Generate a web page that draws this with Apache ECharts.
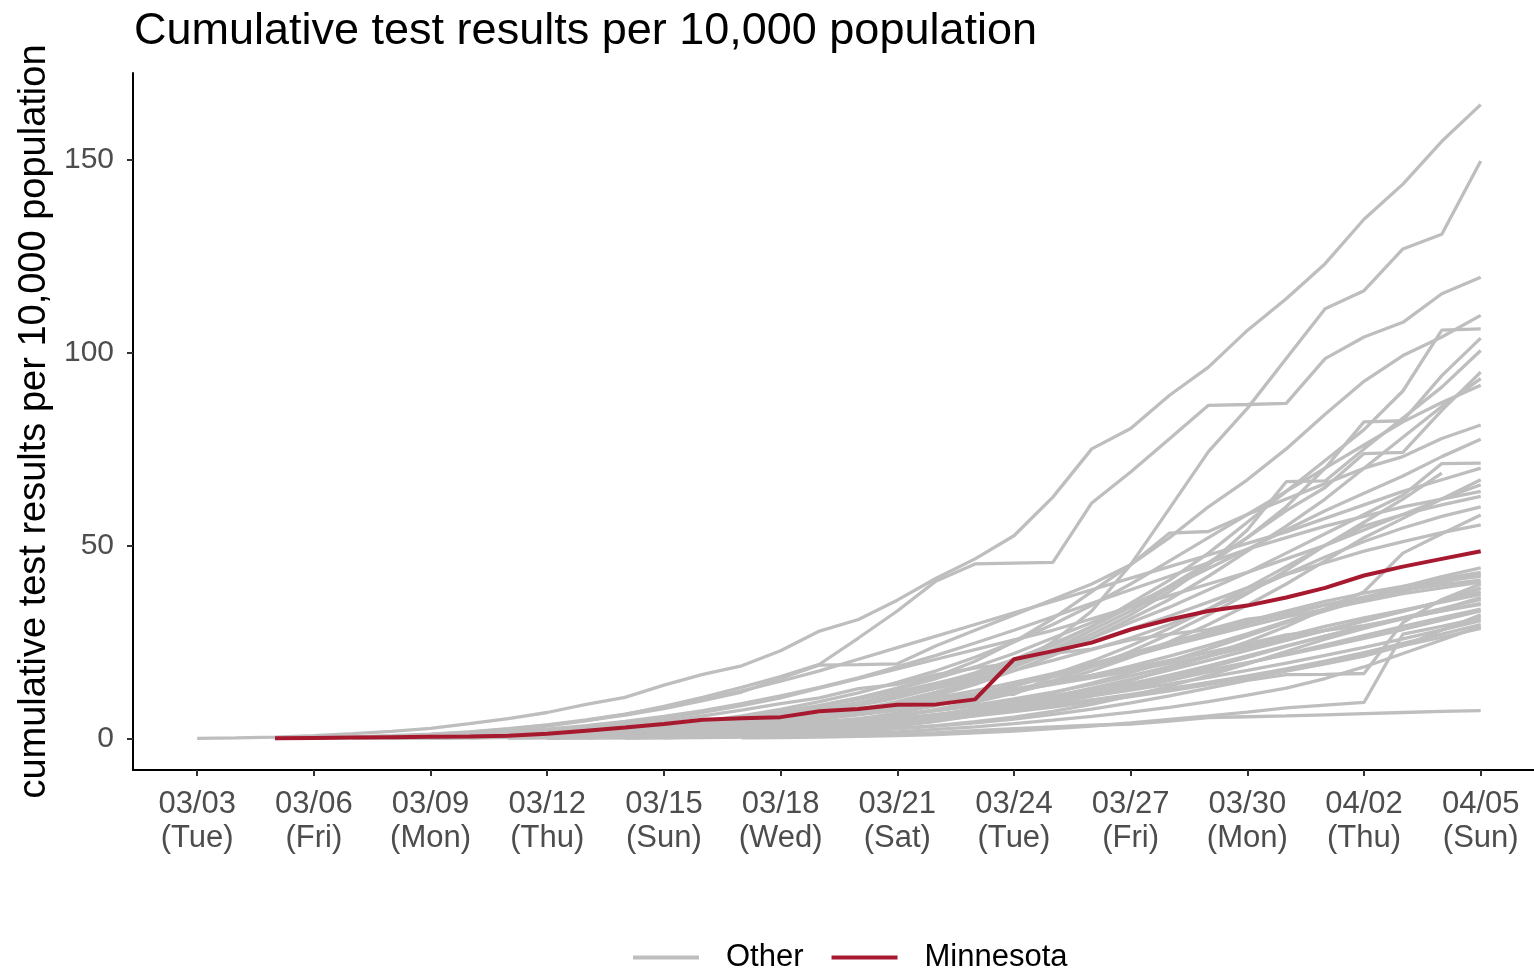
<!DOCTYPE html>
<html>
<head>
<meta charset="utf-8">
<script src="https://cdn.jsdelivr.net/npm/echarts@6.0.0/dist/echarts.min.js"></script>
<style>
  html, body { margin: 0; padding: 0; background: #fff; }
  #main { width: 1534px; height: 968px; }
</style>
</head>
<body>
<div id="main"></div>
<script>
// day index 0 = 03/03 ... 33 = 04/05
var tickDays = [0, 3, 6, 9, 12, 15, 18, 21, 24, 27, 30, 33];
var tickLabels = ['03/03\n(Tue)', '03/06\n(Fri)', '03/09\n(Mon)', '03/12\n(Thu)', '03/15\n(Sun)', '03/18\n(Wed)',
    '03/21\n(Sat)', '03/24\n(Tue)', '03/27\n(Fri)', '03/30\n(Mon)', '04/02\n(Thu)', '04/05\n(Sun)'];
var yTicks = [0, 50, 100, 150];

var _ = null;
var minnesota = [_, _, 0, 0.1, 0.2, 0.3, 0.4, 0.5, 0.7, 1.2, 2.0, 2.8, 3.7, 4.8, 5.2, 5.5, 7.0, 7.6, 8.7, 8.8, 10.1,
    20.5, 22.6, 24.8, 28.2, 30.8, 33, 34.4, 36.5, 39, 42.2, 44.5, 46.5, 48.5];

var other01 = [0, 0.1, 0.3, 0.7, 1.2, 1.8, 2.6, 3.8, 5.1, 6.7, 8.8, 10.6, 13.8, 16.6, 18.8, 22.7, 27.8, 30.8, 35.8, 41.5,
    46.5, 52.5, 62.5, 75, 80.3, 88.9, 96.2, 105.7, 113.9, 123, 134.5, 143.6, 154.7, 164.2];
var other02 = [_, _, _, _, _, 0.1, 0.2, 0.3, 0.5, 0.8, 1.1, 1.5, 2, 2.8, 3.6, 4.6, 5.8, 7.2, 9, 11.5, 14.5, 19, 25, 33,
    45, 59.6, 74.3, 85.5, 98.4, 111.3, 116, 126.8, 130.6, 149.6];
var other03 = [_, _, _, _, 0.1, 0.3, 0.6, 1.2, 2, 3.2, 4.6, 6.2, 8.3, 10.6, 13.2, 16, 19.2, 26, 33, 40.8, 45.2, 45.4,
    45.6, 61, 69, 77.6, 86.3, 86.5, 86.8, 98.4, 104, 107.8, 115.2, 119.5];
var other04 = [_, _, _, _, _, _, 0.2, 0.4, 0.7, 1, 1.5, 2.2, 3, 4, 5.2, 6.8, 8.5, 10.5, 13, 16, 20, 25, 31, 38, 45, 52,
    60, 67, 75, 84, 92.5, 99.2, 104, 109.6];
var other05 = [_, _, _, _, _, _, _, 0.2, 0.4, 0.7, 1.1, 1.6, 2.3, 3.2, 4.3, 5.6, 7, 8.8, 11, 13.5, 16.5, 20, 24, 29, 35,
    41, 48, 56, 64, 72, 80, 90, 105.8, 106.1];
var other06 = [_, _, _, _, _, _, 0.1, 0.3, 0.5, 0.8, 1.2, 1.8, 2.5, 3.3, 4.3, 5.5, 7, 8.5, 10.5, 13, 16, 19, 23, 28, 33,
    39, 45, 52, 60, 70, 82, 82.3, 94, 103.7];
var other07 = [_, _, _, _, _, _, _, _, 0.2, 0.4, 0.7, 1.1, 1.6, 2.3, 3.2, 4.4, 5.8, 7.5, 9.5, 12, 15, 18.5, 22.5, 27, 32,
    38, 45, 54, 66.5, 66.7, 75, 83, 91, 100.5];
var other08 = [_, _, _, _, _, 0.1, 0.2, 0.4, 0.6, 0.9, 1.3, 1.8, 2.5, 3.4, 4.5, 5.8, 7.4, 9.2, 11.4, 14, 17, 20.5, 24.5,
    29, 34, 39.5, 45.5, 52, 59, 65, 73.8, 74.1, 85, 94.9];
var other09 = [_, _, _, _, _, _, _, _, _, 0.2, 0.4, 0.7, 1.1, 1.7, 2.5, 3.5, 4.8, 6.5, 8.5, 11, 14, 17.5, 21.5, 26, 31,
    36, 42, 48.5, 55, 62, 70, 78, 86, 93.2];
var other10 = [_, _, _, _, 0.1, 0.2, 0.3, 0.5, 0.8, 1.2, 1.7, 2.4, 3.3, 4.4, 5.8, 7.5, 9.5, 11.8, 14.5, 17.5, 21, 25,
    29.5, 34.5, 40, 46, 52, 58, 64, 70, 76, 82, 87, 91.5];
var other11 = [_, _, _, 0.1, 0.3, 0.6, 1, 1.6, 2.4, 3.4, 4.6, 6, 7.7, 9.8, 12, 15.5, 19, 19.1, 19.3, 24, 28, 32, 36, 40,
    45, 53.2, 53.6, 58, 62, 66, 70, 73, 77.7, 81.2];
var other12 = [_, _, _, _, _, _, 0.1, 0.3, 0.6, 1, 1.5, 2.2, 3, 4, 5.3, 6.8, 8.5, 10.5, 12.8, 15.5, 18.5, 22, 26, 30,
    34.5, 39, 44, 49, 54, 59, 63.5, 68, 73, 77.5];
var other13 = [_, _, _, _, _, _, 0.1, 0.2, 0.4, 0.7, 1.1, 1.6, 2.3, 3.2, 4.3, 5.6, 7.2, 9, 11, 13.5, 16, 19, 22.5, 26,
    30, 34, 38.5, 43, 48, 53, 58, 63, 71.2, 71.3];
var other14 = [_, _, 0.1, 0.2, 0.4, 0.7, 1.1, 1.7, 2.5, 3.5, 4.8, 6.3, 8, 10, 12.3, 14.8, 17.5, 20.5, 23.5, 26.5, 29.5,
    32.5, 35.5, 38.5, 41.5, 44.5, 47.5, 50.5, 53.5, 57, 60.5, 64, 67, 70];
var other15 = [_, _, _, _, _, _, _, _, 0.1, 0.2, 0.3, 0.5, 0.8, 1.2, 1.7, 2.4, 3.3, 4.4, 5.8, 7.5, 9.5, 12, 15, 18.5,
    22.5, 27, 32, 37.5, 43.5, 50, 56, 62, 68.7];
var other16 = [_, _, _, 0.1, 0.2, 0.4, 0.7, 1, 1.5, 2.1, 2.9, 3.9, 5.2, 6.7, 8.5, 10.5, 13, 15.5, 18, 20.5, 23, 25.5, 28,
    31, 34, 37, 40, 43, 46.5, 50, 54, 58, 62, 65.7];
var other17 = [_, _, _, _, _, _, _, _, 0.1, 0.2, 0.4, 0.6, 0.9, 1.3, 1.9, 2.7, 3.7, 5, 6.6, 8.5, 10.8, 13.5, 16.5, 20,
    24, 28.5, 33.5, 39, 44.5, 50, 55, 58, 60.5, 62.7];
var other18 = [_, _, _, _, 0.1, 0.2, 0.4, 0.6, 0.9, 1.3, 1.8, 2.4, 3.1, 4, 5, 6.2, 7.6, 9.2, 11, 13, 15.2, 17.6, 20.2,
    23, 26, 29.5, 33.5, 38, 42.5, 47, 51, 54.5, 57.5, 60];
var other19 = [_, _, _, _, _, _, _, _, _, _, _, 0.1, 0.2, 0.4, 0.7, 1.1, 1.6, 2.3, 3.2, 4.4, 5.9, 7.7, 9.8, 12.3, 15, 18,
    21.5, 25, 29, 33.5, 38, 48, 53, 57.9];
var other20 = [_, _, _, _, _, 0.1, 0.3, 0.5, 0.8, 1.2, 1.7, 2.3, 3.1, 4.1, 5.3, 6.7, 8.3, 10.1, 12.1, 14.3, 16.7, 19.3,
    22.1, 25.1, 28.3, 31.7, 35.3, 39, 42.5, 45.5, 48.5, 51, 53.3, 55.3];
var other21 = [_, _, _, _, _, 0.1, 0.2, 0.3, 0.5, 0.7, 1, 1.4, 1.9, 2.5, 3.2, 4, 5, 6.1, 7.3, 8.7, 10.3, 12.1, 14.1,
    16.3, 18.7, 21.3, 24.1, 27.1, 30.3, 33.5, 36.5, 39.3, 41.9, 44.2];
var other22 = [_, _, _, 0.1, 0.2, 0.4, 0.6, 0.9, 1.3, 1.8, 2.5, 3.4, 4.5, 5.8, 7.3, 9, 10.5, 12.9, 14, 16.5, 18.2, 19.5,
    22, 23.1, 25.5, 27, 28.2, 30.9, 32, 34.6, 36.5, 38, 41.3, 43];
var other23 = [_, _, _, _, _, _, _, _, _, 0.1, 0.2, 0.4, 0.6, 0.9, 1.3, 1.9, 2.6, 3.5, 4.6, 6, 7.7, 9.6, 11.8, 14.3, 17,
    20, 23.2, 26.5, 30, 33, 36, 38.5, 40.5, 42.4];
var other24 = [_, _, _, _, _, _, 0.1, 0.2, 0.4, 0.6, 0.9, 1.3, 1.8, 2.4, 3.2, 4.1, 5.2, 6.5, 8, 9.7, 11.6, 13.7, 16,
    18.5, 21.2, 24, 26.9, 29.8, 32.3, 34.6, 36.6, 38.4, 39.8, 41];
var other25 = [_, _, _, _, _, _, _, _, _, _, 0.1, 0.2, 0.3, 0.5, 0.7, 1, 1.4, 1.9, 2.5, 3.2, 4, 5, 6.2, 7.6, 9.2, 11, 13,
    15, 16.5, 16.6, 16.8, 30, 36, 40];
var other26 = [_, _, _, _, 0.1, 0.2, 0.3, 0.5, 0.7, 1, 1.4, 1.9, 2.5, 3.2, 4, 4.9, 5.9, 7, 8.2, 9.5, 10.9, 12.4, 14,
    15.7, 17.5, 19.4, 21.4, 23.5, 25.7, 28, 30.4, 32.9, 35.5, 39];
var other27 = [_, _, _, _, _, _, _, _, _, 0.1, 0.2, 0.4, 0.6, 0.9, 1.3, 1.8, 2.5, 3.3, 4.3, 5.5, 7, 8.8, 10.8, 13, 15.3,
    17.7, 20.2, 22.8, 25.4, 28, 30.5, 33, 35.5, 38];
var other28 = [_, _, _, _, _, 0.1, 0.2, 0.3, 0.4, 0.6, 0.8, 1.1, 1.5, 2, 2.6, 3.3, 4.1, 5, 6, 7.2, 8.6, 10.2, 12, 14,
    16.2, 18.6, 21.2, 24, 26.5, 29, 31.2, 33.2, 35.3, 37.3];
var other29 = [_, _, _, _, _, _, _, _, _, 0.1, 0.2, 0.3, 0.5, 0.8, 1.2, 1.7, 2.3, 3, 3.9, 5, 6.3, 7.8, 9.5, 11.4, 13.5,
    15.8, 18.3, 21, 23.8, 26.5, 29, 31.3, 33.6, 36];
var other30 = [_, _, _, _, _, _, 0.1, 0.2, 0.3, 0.5, 0.7, 1, 1.3, 1.7, 2.2, 2.8, 3.5, 4.3, 5.2, 6.2, 7.4, 8.8, 10.4,
    12.2, 14.2, 16.4, 18.8, 21.4, 24, 26.5, 28.8, 31, 33, 35];
var other31 = [_, _, _, _, _, _, _, _, _, _, _, 0.1, 0.2, 0.4, 0.6, 0.9, 1.3, 1.8, 2.5, 3.3, 4.3, 5.5, 7, 8.8, 11, 13.5,
    16.3, 19.3, 22.5, 25.7, 28.5, 31, 33, 34.7];
var other32 = [_, _, _, _, 0.1, 0.2, 0.3, 0.4, 0.5, 0.7, 0.9, 1.2, 1.6, 2.1, 2.7, 3.4, 4.2, 5.1, 6.1, 7.2, 8.4, 9.7,
    11.1, 12.6, 14.2, 15.9, 17.7, 19.6, 21.6, 23.7, 25.9, 28.2, 30.6, 33];
var other33 = [_, _, _, _, _, _, _, _, _, 0.1, 0.2, 0.4, 0.6, 0.9, 1.3, 1.8, 2.4, 3.1, 3.9, 4.8, 5.8, 6.9, 8.1, 9.4,
    10.8, 12.3, 13.9, 15.6, 17.4, 19.3, 21.3, 24, 28, 32];
var other34 = [_, _, _, _, _, _, _, _, _, _, _, _, _, _, 0.1, 0.2, 0.3, 0.5, 0.7, 1, 1.4, 1.9, 2.5, 3.2, 4, 4.9, 5.8,
    6.8, 7.9, 8.6, 9.3, 27, 29, 31.2];
var other35 = [_, _, _, _, _, _, 0.1, 0.2, 0.3, 0.4, 0.6, 0.8, 1.1, 1.5, 2, 2.6, 3.3, 4.1, 5, 6, 7.1, 8.3, 9.6, 11,
    12.5, 14.1, 15.8, 17.6, 19.5, 21.5, 23.6, 25.8, 28.1, 30.5];
var other36 = [_, _, _, _, _, 0.1, 0.2, 0.3, 0.4, 0.5, 0.7, 0.9, 1.2, 1.5, 1.9, 2.4, 3, 3.7, 4.5, 5.4, 6.4, 7.5, 8.7, 10,
    11.4, 12.9, 14.5, 16.2, 18, 20, 22.2, 24.6, 27, 29.5];
var other37 = [_, _, _, _, _, _, _, _, _, _, _, _, 0.1, 0.2, 0.3, 0.5, 0.8, 1.2, 1.7, 2.3, 3, 3.8, 4.7, 5.7, 6.8, 8, 9.5,
    11.2, 13, 15.5, 18.5, 22, 25.5, 29];
var other38 = [_, _, _, _, _, _, _, 0.1, 0.2, 0.3, 0.5, 0.7, 1, 1.3, 1.7, 2.2, 2.8, 3.5, 4.3, 5.2, 6.2, 7.3, 8.5, 9.8,
    11.2, 12.7, 14.3, 16, 17.8, 19.7, 21.7, 24, 26.2, 28.5];
var other39 = [_, _, _, _, _, _, _, _, _, _, 0.1, 0.1, 0.2, 0.3, 0.4, 0.5, 0.7, 0.9, 1.2, 1.5, 2, 2.5, 3, 3.4, 3.7, 4.5,
    5.4, 5.6, 5.8, 6.1, 6.4, 6.7, 7, 7.2];
var other40 = [_, _, _, _, 0.1, 0.2, 0.3, 0.5, 0.7, 1, 1.4, 1.9, 2.5, 3.2, 4, 4.9, 5.9, 7, 8.3, 9.7, 11.2, 12.8, 14.5,
    16.3, 18.2, 20.2, 22.3, 24.5, 26.8, 28, 29.2, 31, 33.5, 36.5];
var other41 = [_, _, _, _, _, _, 0.1, 0.3, 0.5, 0.8, 1.2, 1.7, 2.3, 3, 3.8, 4.8, 6, 7.5, 9.2, 11, 11.2, 11.4, 16, 19,
    21.5, 24, 26.5, 29, 31.5, 33.5, 35.5, 37.5, 39, 40.5];
var other42 = [_, _, 0.1, 0.2, 0.3, 0.5, 0.8, 1.2, 1.7, 2.4, 3.3, 4.4, 5.7, 7.2, 9, 11, 13.2, 15.7, 18.5, 21.5, 24.7, 28,
    31.5, 35, 38.5, 42, 45.5, 49, 52, 55, 57.5, 60, 62, 64];
var other43 = [_, _, _, _, _, _, _, _, _, 0.1, 0.2, 0.4, 0.7, 1.1, 1.6, 2.3, 3.2, 4.3, 5.7, 7.4, 9.4, 11.7, 14.4, 17.5,
    21, 25, 29.5, 34.5, 40, 46, 52, 57, 62, 67];
var other44 = [_, _, _, _, _, 0.1, 0.2, 0.4, 0.6, 0.9, 1.3, 1.8, 2.4, 3.1, 3.9, 4.9, 6, 7.3, 8.8, 10.5, 12.4, 14.5, 16.8,
    19.3, 22, 24.8, 27.6, 30.4, 33, 35.5, 37.6, 39.4, 40.8, 42];
var other45 = [_, _, _, _, _, _, _, _, 0.1, 0.2, 0.3, 0.4, 0.6, 0.8, 1.1, 1.5, 2, 2.7, 3.6, 4.7, 6, 7.5, 9.2, 11, 13, 15,
    17.2, 19.5, 21.8, 24.2, 26.6, 29, 31.3, 33.5];

var others = [other01, other02, other03, other04, other05, other06, other07, other08, other09, other10,
    other11, other12, other13, other14, other15, other16, other17, other18, other19, other20,
    other21, other22, other23, other24, other25, other26, other27, other28, other29, other30,
    other31, other32, other33, other34, other35, other36, other37, other38, other39, other40,
    other41, other42, other43, other44, other45];

var grayColor = '#bebebe';
var mnColor = '#a6192e';
var font = 'Liberation Sans, Arial, sans-serif';

function toPoints(arr) {
    return arr.map(function (v, i) { return [i, v]; });
}

var series = others.map(function (arr) {
    return {
        name: 'Other',
        type: 'line',
        data: toPoints(arr),
        showSymbol: false,
        symbol: 'none',
        silent: true,
        z: 2,
        lineStyle: { color: grayColor, width: 3.3 },
        itemStyle: { color: grayColor }
    };
});
series.push({
    name: 'Minnesota',
    type: 'line',
    data: toPoints(minnesota),
    showSymbol: false,
    symbol: 'none',
    silent: true,
    z: 5,
    lineStyle: { color: mnColor, width: 4 },
    itemStyle: { color: mnColor }
});

var myChart = echarts.init(document.getElementById('main'));
var option = {
    backgroundColor: '#fff',
    animation: false,
    title: {
        text: 'Cumulative test results per 10,000 population',
        left: 129,
        top: 4,
        textStyle: { fontFamily: font, fontSize: 45, fontWeight: 'normal', color: '#000' }
    },
    legend: {
        data: ['Other', 'Minnesota'],
        left: 628,
        top: 937,
        icon: 'rect',
        itemWidth: 66,
        itemHeight: 4,
        itemGap: 28,
        textStyle: { fontFamily: font, fontSize: 31, color: '#000', padding: [0, 0, 0, 22] }
    },
    grid: { left: 133, right: 0, top: 73, bottom: 198, containLabel: false },
    xAxis: {
        type: 'value',
        min: -1.65,
        max: 34.37,
        splitLine: { show: false },
        axisLine: { show: true, onZero: false, lineStyle: { color: '#000', width: 2 } },
        axisTick: { show: true, customValues: tickDays, length: 6, lineStyle: { color: '#333', width: 2 } },
        axisLabel: {
            customValues: tickDays,
            formatter: function (v) { return tickLabels[tickDays.indexOf(v)]; },
            fontFamily: font, fontSize: 31, color: '#4d4d4d', lineHeight: 34, margin: 17
        }
    },
    yAxis: {
        type: 'value',
        min: -8.2,
        max: 172.4,
        name: 'cumulative test results per 10,000 population',
        nameLocation: 'middle',
        nameRotate: 90,
        nameGap: 78,
        nameTextStyle: { fontFamily: font, fontSize: 38, color: '#000' },
        splitLine: { show: false },
        axisLine: { show: true, onZero: false, lineStyle: { color: '#000', width: 2 } },
        axisTick: { show: true, customValues: yTicks, length: 6, lineStyle: { color: '#333', width: 2 } },
        axisLabel: {
            customValues: yTicks,
            fontFamily: font, fontSize: 30, color: '#4d4d4d', margin: 19
        }
    },
    series: series
};
myChart.setOption(option);
</script>
</body>
</html>
